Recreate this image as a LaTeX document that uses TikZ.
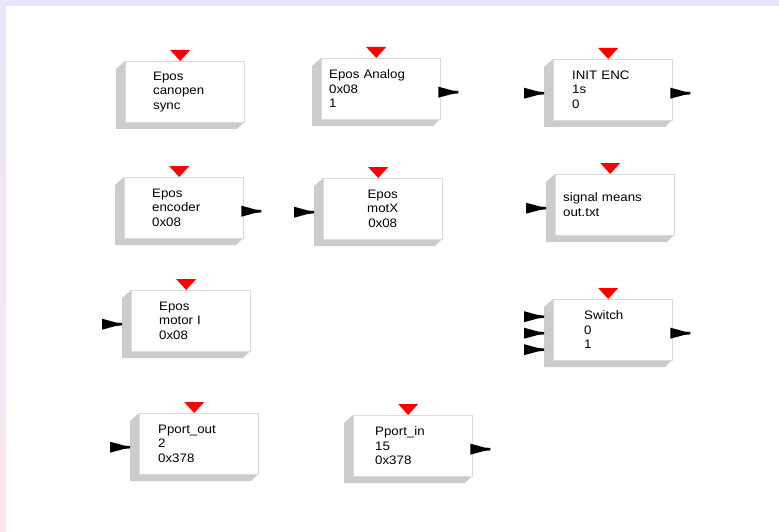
\documentclass[tikz,border=0pt]{standalone}
\usepackage{fontspec}
\setmainfont{Liberation Sans}[FakeStretch=1.08]
\usetikzlibrary{backgrounds}
\definecolor{shadowgrey}{RGB}{204,204,204}
\definecolor{edgegrey}{RGB}{218,218,218}
\definecolor{bandtop}{RGB}{232,230,250}
\definecolor{bandbottom}{RGB}{252,230,238}
% grey side of a block and its red trigger on top
\newcommand{\blockdeco}[1]{%
  \begin{scope}[on background layer]
    \fill[shadowgrey] (#1.north west) -- ++(-9,8) -- ++(0,60) -- ++(121,0) -- ++(7,-7) -- cycle;
  \end{scope}
  \fill[red] (#1.north) ++(-4.5,0) -- ++(-10,-11) -- ++(20,0) -- cycle;}
% black port arrows
\newcommand{\inport}[2]{\fill (#1.west) ++(-29,#2) ++(0,-5.5) -- ++(14,3.8) -- ++(6,0.5) -- ++(0,2.4) -- ++(-6,0.5) -- ++(-14,3.8) -- cycle;}
\newcommand{\outport}[1]{\fill (#1.east) ++(-2,-2) -- ++(14,3.8) -- ++(6,0.5) -- ++(0,2.4) -- ++(-6,0.5) -- ++(-14,3.8) -- cycle;}

\begin{document}
\begin{tikzpicture}[x=1pt,y=-1pt,
  block/.style={draw=edgegrey,fill=white,anchor=north west,minimum width=119pt,
    minimum height=61pt,inner sep=0pt,align=left,font=\fontsize{12.3}{14.5}\selectfont}]
\useasboundingbox (0,0) rectangle (779,532);
%% window edge
\begin{scope}[on background layer]
\fill[bandtop] (0,0) rectangle (779,6);
\shade[top color=bandtop,bottom color=bandbottom] (0,0) rectangle (6,532);
\end{scope}
%the blocks
\node [block,text width=63pt] (canopenSync) at (125,61) {Epos\\canopen\\sync};
\node [block,text width=103pt] (eposAnalog) at (321,58) {Epos Analog\\0x08\\1};
\node [block,text width=81pt] (initEnc) at (553,59) {INIT ENC\\1s\\0};
\node [block,text width=63pt] (eposEncoder) at (124,177) {Epos\\encoder\\0x08};
\node [block,text width=103pt,align=center] (eposMotX) at (323,178) {Epos\\motX\\0x08};
\node [block,text width=103pt] (signalMeans) at (555,174) {signal means\\out.txt};
\node [block,text width=63pt] (eposMotorI) at (131,290) {Epos\\motor I\\0x08};
\node [block,text width=57pt] (switchBlock) at (553,299) {Switch\\0\\1};
\node [block,text width=81pt] (pportOut) at (139,413) {Pport\_out\\2\\0x378};
\node [block,text width=75pt] (pportIn) at (353,415) {Pport\_in\\15\\0x378};
%sides and triggers
\blockdeco{canopenSync}
\blockdeco{eposAnalog}
\blockdeco{initEnc}
\blockdeco{eposEncoder}
\blockdeco{eposMotX}
\blockdeco{signalMeans}
\blockdeco{eposMotorI}
\blockdeco{switchBlock}
\blockdeco{pportOut}
\blockdeco{pportIn}
%ports
\outport{eposAnalog}
\inport{initEnc}{3.5}
\outport{initEnc}
\outport{eposEncoder}
\inport{eposMotX}{3.5}
\inport{signalMeans}{3.5}
\inport{eposMotorI}{3.5}
\inport{switchBlock}{-13}
\inport{switchBlock}{3.5}
\inport{switchBlock}{20}
\outport{switchBlock}
\inport{pportOut}{3.5}
\outport{pportIn}

\end{tikzpicture}
\end{document}
